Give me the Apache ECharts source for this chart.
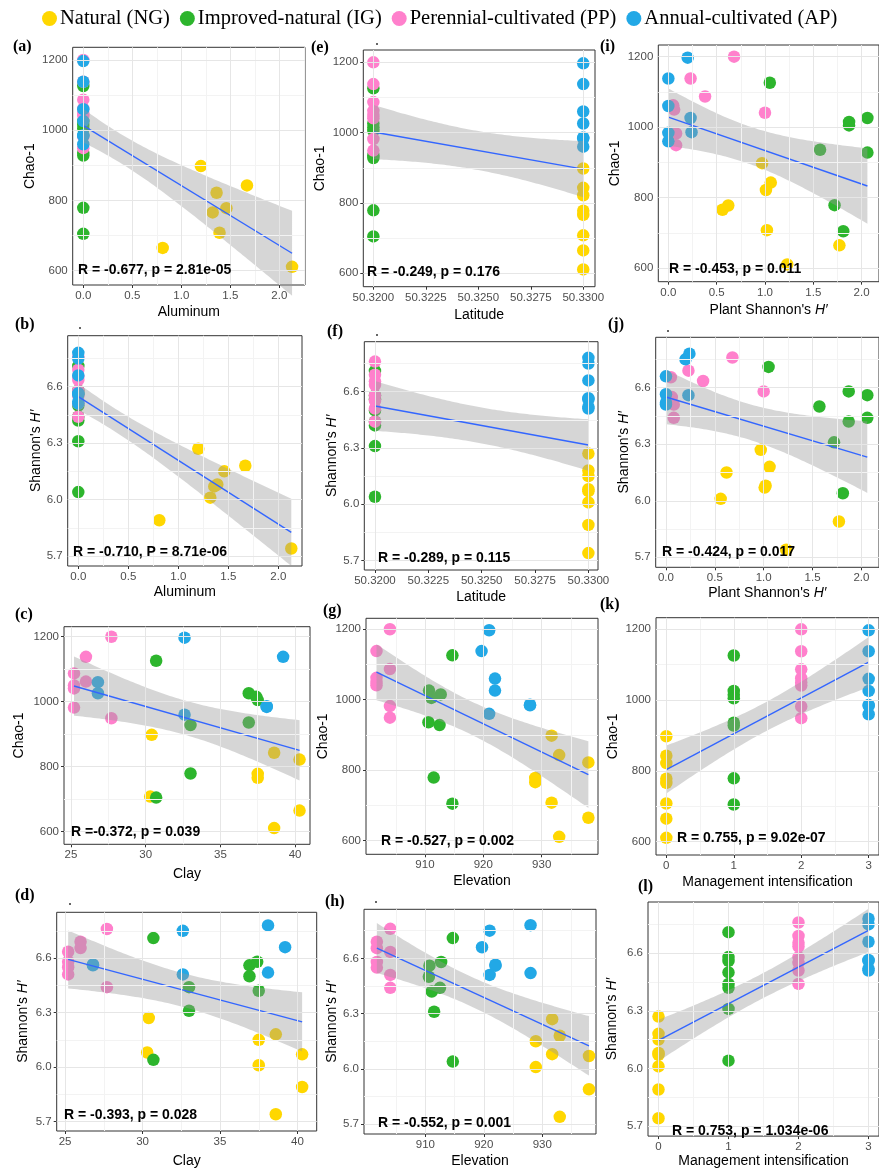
<!DOCTYPE html>
<html><head><meta charset="utf-8">
<script src="https://cdn.jsdelivr.net/npm/echarts@6/dist/echarts.min.js"></script>
<style>html,body{margin:0;padding:0;background:#fff}#c{width:879px;height:1169px}</style>
</head><body><div id="c"></div>
<script>
// ---------------- DATA ----------------
const groupNames = ['Natural (NG)', 'Improved-natural (IG)', 'Perennial-cultivated (PP)', 'Annual-cultivated (AP)'];

// Natural (NG)
const ngChao      = [898, 843, 822, 778, 766, 708, 665, 611];
const ngShannon   = [6.27, 6.18, 6.07, 6.15, 6.01, 6.08, 5.89, 5.74];
const ngAluminum  = [1.20, 1.67, 1.36, 1.46, 1.32, 1.39, 0.81, 2.13];
const ngClay      = [30.4, 38.6, 40.3, 37.5, 37.5, 30.3, 40.3, 38.6];
const ngElevation = [931.7, 933, 938, 928.9, 928.9, 931.7, 938, 933];
const ngPlantH    = [0.97, 1.06, 1.01, 0.62, 0.56, 1.02, 1.77, 1.23];

// Improved-natural (IG)
const igChao      = [1126, 705, 928, 779, 1026, 1015, 1005, 936];
const igShannon   = [6.71, 6.04, 6.44, 6.31, 6.56, 6.58, 6.42, 6.50];
const igAluminum  = [0, 0, 0, 0, 0, 0, 0, 0];
const igClay      = [30.7, 30.7, 33.0, 33.0, 36.9, 37.4, 37.5, 36.9];
const igElevation = [914.7, 914.7, 912.5, 911.5, 910.7, 912.7, 911.1, 910.6];
const igPlantH    = [1.05, 1.81, 2.06, 1.72, 2.06, 1.87, 1.87, 1.57];

// Perennial-cultivated (PP)
const ppChao      = [1200, 949, 1087, 982, 1138, 1062, 1041, 1050];
const ppShannon   = [6.76, 6.44, 6.635, 6.51, 6.69, 6.655, 6.58, 6.55];
const ppAluminum  = [0, 0, 0, 0, 0, 0, 0, 0];
const ppClay      = [27.7, 27.7, 25.2, 25.2, 26.0, 26.0, 25.2, 25.2];
const ppElevation = [904, 904, 904, 904, 901.7, 901.7, 901.7, 901.7];
const ppPlantH    = [0.68, 0.08, 0.38, 0.08, 0.23, 0.05, 1.0, 0.06];

// Annual-cultivated (AP)
const apChao      = [1197, 960, 1138, 1060, 1026, 986, 984];
const apShannon   = [6.75, 6.51, 6.66, 6.565, 6.56, 6.78, 6.52];
const apAluminum  = [0, 0, 0, 0, 0, 0, 0];
const apClay      = [32.6, 32.6, 39.2, 26.8, 26.8, 38.1, 38.1];
const apElevation = [921, 921, 919.7, 922, 922, 928, 928];
const apPlantH    = [0.2, 0.0, 0.0, 0.0, 0.23, 0.24, 0.0];

// per-group constants
const groupLatitude = [50.33, 50.32, 50.32, 50.33];
const groupManagement = [0, 1, 2, 3];

// tick labels
const aluminumTicks = [0, 0.5, 1, 1.5, 2];
const latitudeTicks = [50.32, 50.3225, 50.325, 50.3275, 50.33];
const clayTicks = [25, 30, 35, 40];
const elevationTicks = [910, 920, 930];
const plantTicks = [0, 0.5, 1, 1.5, 2];
const managementTicks = [0, 1, 2, 3];
const chaoTicks = [600, 800, 1000, 1200];
const shannonTicks = [5.7, 6.0, 6.3, 6.6];

// correlation labels
const statLabels = {
  a: 'R = -0.677, p = 2.81e-05', b: 'R = -0.710, P = 8.71e-06',
  c: 'R =-0.372, p = 0.039',     d: 'R = -0.393, p = 0.028',
  e: 'R = -0.249, p = 0.176',    f: 'R = -0.289, p = 0.115',
  g: 'R = -0.527, p = 0.002',    h: 'R = -0.552, p = 0.001',
  i: 'R = -0.453, p = 0.011',    j: 'R = -0.424, p = 0.017',
  k: 'R = 0.755, p = 9.02e-07',  l: 'R = 0.753, p = 1.034e-06'
};

// ---------------- STYLE / LAYOUT ----------------
const groupColors = ['#FFD700', '#2DB52D', '#FF80CC', '#22A8E6'];
const groupVars = [
  {chao: ngChao, shannon: ngShannon, aluminum: ngAluminum, clay: ngClay, elevation: ngElevation, plant: ngPlantH},
  {chao: igChao, shannon: igShannon, aluminum: igAluminum, clay: igClay, elevation: igElevation, plant: igPlantH},
  {chao: ppChao, shannon: ppShannon, aluminum: ppAluminum, clay: ppClay, elevation: ppElevation, plant: ppPlantH},
  {chao: apChao, shannon: apShannon, aluminum: apAluminum, clay: apClay, elevation: apElevation, plant: apPlantH}
];
function getVar(g, v) {
  if (v === 'latitude') return groupVars[g].chao.map(() => groupLatitude[g]);
  if (v === 'management') return groupVars[g].chao.map(() => groupManagement[g]);
  return groupVars[g][v];
}
const xAxisDefs = {
  aluminum: {name: 'Aluminum', ticks: aluminumTicks, fmt: v => v.toFixed(1)},
  latitude: {name: 'Latitude', ticks: latitudeTicks, fmt: v => v.toFixed(4)},
  clay: {name: 'Clay', ticks: clayTicks, fmt: v => String(v)},
  elevation: {name: 'Elevation', ticks: elevationTicks, fmt: v => String(v)},
  plant: {name: "Plant Shannon's {i|H′}", ticks: plantTicks, fmt: v => v.toFixed(1)},
  management: {name: 'Management intensification', ticks: managementTicks, fmt: v => String(v)}
};
const yAxisDefs = {
  chao: {name: 'Chao-1', ticks: chaoTicks, fmt: v => String(v)},
  shannon: {name: "Shannon's {i|H′}", ticks: shannonTicks, fmt: v => v.toFixed(1)}
};

// box = [left, top, right, bottom] in px
const panels = [
  {k:'a', x:'aluminum', y:'chao',    box:[72.7, 47.3, 305, 285],     xr:[-0.108, 2.262], yr:[559.3, 1236.2], yGap:36, xGap:20, lab:[13, 47],  st:[78, 270]},
  {k:'b', x:'aluminum', y:'shannon', box:[67.7, 335.7, 302, 566],    xr:[-0.106, 2.237], yr:[5.647, 6.871],  yGap:24, xGap:19, lab:[15, 325], st:[73, 552]},
  {k:'c', x:'clay',     y:'chao',    box:[64, 626.7, 310, 844.3],    xr:[24.53, 41.0],   yr:[561.2, 1230.8], yGap:38, xGap:23, lab:[15, 615], st:[71, 832]},
  {k:'d', x:'clay',     y:'shannon', box:[56.7, 912.3, 316.7, 1131.7], xr:[24.46, 41.24], yr:[5.648, 6.852], yGap:27, xGap:23, lab:[15, 896], st:[64, 1115]},
  {k:'e', x:'latitude', y:'chao',    box:[363.3, 50, 595, 286.7],    xr:[50.31952, 50.33056], yr:[561.9, 1235], yGap:36, xGap:21, lab:[311, 48], st:[367, 272]},
  {k:'f', x:'latitude', y:'shannon', box:[364.3, 341.7, 598, 570],   xr:[50.3195, 50.33045],  yr:[5.650, 6.866], yGap:24, xGap:20, lab:[327, 332], st:[378, 558]},
  {k:'g', x:'elevation',y:'chao',    box:[366, 618.3, 598, 854.3],   xr:[899.9, 939.65], yr:[561.4, 1231],   yGap:36, xGap:20, lab:[323, 611], st:[381, 841]},
  {k:'h', x:'elevation',y:'shannon', box:[364, 909.3, 596, 1138.3],  xr:[899.5, 939.2],  yr:[5.647, 6.866],  yGap:24, xGap:20, lab:[325, 902], st:[378, 1123]},
  {k:'i', x:'plant',    y:'chao',    box:[658.3, 45, 893.7, 281.7],  xr:[-0.104, 2.18],  yr:[562, 1233],     yGap:36, xGap:21, lab:[600, 47],  st:[669, 269]},
  {k:'j', x:'plant',    y:'shannon', box:[655.7, 337.3, 893.9, 567.3], xr:[-0.105, 2.18], yr:[5.647, 6.867], yGap:25, xGap:19, lab:[608, 325], st:[662, 552]},
  {k:'k', x:'management', y:'chao',  box:[656, 617.7, 886.6, 855],   xr:[-0.153, 3.153], yr:[562.4, 1232.8], yGap:36, xGap:20, lab:[600, 605], st:[677, 838]},
  {k:'l', x:'management', y:'shannon', box:[648, 902, 882, 1141],    xr:[-0.15, 3.15],   yr:[5.647, 6.867],  yGap:29, xGap:12, lab:[638, 887], st:[672, 1131]}
];
const dots = [[80, 328], [70, 904], [377, 44], [377, 335], [376, 902], [668, 331]];

// ---------------- BUILD ----------------
const T_CRIT = 2.045; // t(0.975, df = 29)
function regression(xs, ys) {
  const n = xs.length;
  const mx = xs.reduce((a, b) => a + b, 0) / n;
  const my = ys.reduce((a, b) => a + b, 0) / n;
  let sxx = 0, sxy = 0;
  for (let i = 0; i < n; i++) { sxx += (xs[i] - mx) ** 2; sxy += (xs[i] - mx) * (ys[i] - my); }
  const b = sxy / sxx, a = my - b * mx;
  let sse = 0;
  for (let i = 0; i < n; i++) sse += (ys[i] - a - b * xs[i]) ** 2;
  const s = Math.sqrt(sse / (n - 2));
  const x0 = Math.min(...xs), x1 = Math.max(...xs);
  const band = [];
  const steps = 80;
  for (let k = 0; k <= steps; k++) {
    const x = x0 + (x1 - x0) * k / steps;
    const yh = a + b * x;
    const se = s * Math.sqrt(1 / n + (x - mx) ** 2 / sxx);
    band.push([x, yh - T_CRIT * se, yh + T_CRIT * se]);
  }
  return {line: [[x0, a + b * x0], [x1, a + b * x1]], band};
}
function minorOf(ticks, lo, hi) {
  const out = [];
  const step = ticks[1] - ticks[0];
  const ext = [ticks[0] - step, ...ticks, ticks[ticks.length - 1] + step];
  for (let i = 0; i < ext.length - 1; i++) {
    const m = (ext[i] + ext[i + 1]) / 2;
    if (m > lo && m < hi) out.push(m);
  }
  return out;
}

const FONT = '"Liberation Sans", Arial, sans-serif';
const grids = [], xAxes = [], yAxes = [], series = [], graphics = [];

panels.forEach((p, i) => {
  const [L, T, R, B] = p.box;
  grids.push({left: L, top: T, width: R - L, height: B - T, show: true,
    borderColor: '#333', borderWidth: 1, backgroundColor: '#fff'});
  const xd = xAxisDefs[p.x], yd = yAxisDefs[p.y];
  xAxes.push({type: 'value', gridIndex: i, min: p.xr[0], max: p.xr[1],
    axisLine: {show: false}, splitLine: {show: false},
    axisTick: {show: true, customValues: xd.ticks, length: 3, lineStyle: {color: '#333'}},
    axisLabel: {customValues: xd.ticks, formatter: xd.fmt, color: '#4D4D4D', fontSize: 11.5, fontFamily: FONT, margin: 5, hideOverlap: false},
    name: xd.name, nameLocation: 'middle', nameGap: p.xGap,
    nameTextStyle: {color: '#000', fontSize: 14, fontFamily: FONT,
      rich: {i: {fontStyle: 'italic', fontSize: 14, fontFamily: FONT, color: '#000'}}}
  });
  yAxes.push({type: 'value', gridIndex: i, min: p.yr[0], max: p.yr[1],
    axisLine: {show: false}, splitLine: {show: false},
    axisTick: {show: true, customValues: yd.ticks, length: 3, lineStyle: {color: '#333'}},
    axisLabel: {customValues: yd.ticks, formatter: yd.fmt, color: '#4D4D4D', fontSize: 11.5, fontFamily: FONT, margin: 5},
    name: yd.name, nameLocation: 'middle', nameGap: p.yGap,
    nameTextStyle: {color: '#000', fontSize: 14, fontFamily: FONT,
      rich: {i: {fontStyle: 'italic', fontSize: 14, fontFamily: FONT, color: '#000'}}}
  });
  // grid lines (minor + major) through the axis scales
  const xMinor = minorOf(xd.ticks, p.xr[0], p.xr[1]);
  const yMinor = minorOf(yd.ticks, p.yr[0], p.yr[1]);
  series.push({type: 'line', xAxisIndex: i, yAxisIndex: i, data: [], silent: true, z: 1,
    markLine: {silent: true, symbol: ['none', 'none'], animation: false, label: {show: false},
      lineStyle: {color: '#F3F3F3', width: 1, type: 'solid'},
      data: [...xMinor.map(v => ({xAxis: v})), ...yMinor.map(v => ({yAxis: v}))]}});
  series.push({type: 'line', xAxisIndex: i, yAxisIndex: i, data: [], silent: true, z: 1,
    markLine: {silent: true, symbol: ['none', 'none'], animation: false, label: {show: false},
      lineStyle: {color: '#E6E6E6', width: 1, type: 'solid'},
      data: [...xd.ticks.map(v => ({xAxis: v})), ...yd.ticks.map(v => ({yAxis: v}))]}});
  // points
  const allX = [], allY = [];
  for (let g = 0; g < 4; g++) {
    const xs = getVar(g, p.x), ys = getVar(g, p.y);
    allX.push(...xs); allY.push(...ys);
    series.push({type: 'scatter', name: groupNames[g], xAxisIndex: i, yAxisIndex: i, z: 2,
      symbol: 'circle', symbolSize: 12.5, itemStyle: {color: groupColors[g], opacity: 1},
      data: xs.map((x, k) => [x, ys[k]])});
  }
  const reg = regression(allX, allY);
  series.push({type: 'custom', xAxisIndex: i, yAxisIndex: i, z: 3, silent: true,
    encode: {x: 0, y: [1, 2]}, data: reg.band,
    renderItem: (params, api) => {
      if (params.dataIndex !== 0) return null;
      const up = reg.band.map(q => api.coord([q[0], q[2]]));
      const lo = reg.band.map(q => api.coord([q[0], q[1]])).reverse();
      return {type: 'polygon', shape: {points: up.concat(lo)}, style: {fill: 'rgba(153,153,153,0.4)'}};
    }});
  series.push({type: 'line', xAxisIndex: i, yAxisIndex: i, z: 4, silent: true, showSymbol: false,
    symbol: 'none', lineStyle: {color: '#3366FF', width: 1.4}, data: reg.line});
  graphics.push({type: 'text', x: p.lab[0], y: p.lab[1], z: 100,
    style: {text: '(' + p.k + ')', font: 'bold 16px "Liberation Serif", "Times New Roman", serif', fill: '#000', verticalAlign: 'middle'}});
  graphics.push({type: 'text', x: p.st[0], y: p.st[1], z: 100,
    style: {text: statLabels[p.k], font: 'bold 14px ' + FONT, fill: '#000', verticalAlign: 'middle'}});
});
dots.forEach(d => graphics.push({type: 'circle', z: 100, shape: {cx: d[0], cy: d[1], r: 1}, style: {fill: '#333'}}));

const chart = echarts.init(document.getElementById('c'), null, {renderer: 'canvas'});
chart.setOption({
  animation: false,
  backgroundColor: '#fff',
  legend: {data: groupNames, left: 37, top: 3, icon: 'circle', itemWidth: 15, itemHeight: 15, itemGap: 10,
    textStyle: {fontFamily: '"Liberation Serif", "Times New Roman", serif', fontSize: 20.5, color: '#000', padding: [0, 0, 0, -2]}},
  grid: grids, xAxis: xAxes, yAxis: yAxes, series: series,
  graphic: graphics
});
</script></body></html>
